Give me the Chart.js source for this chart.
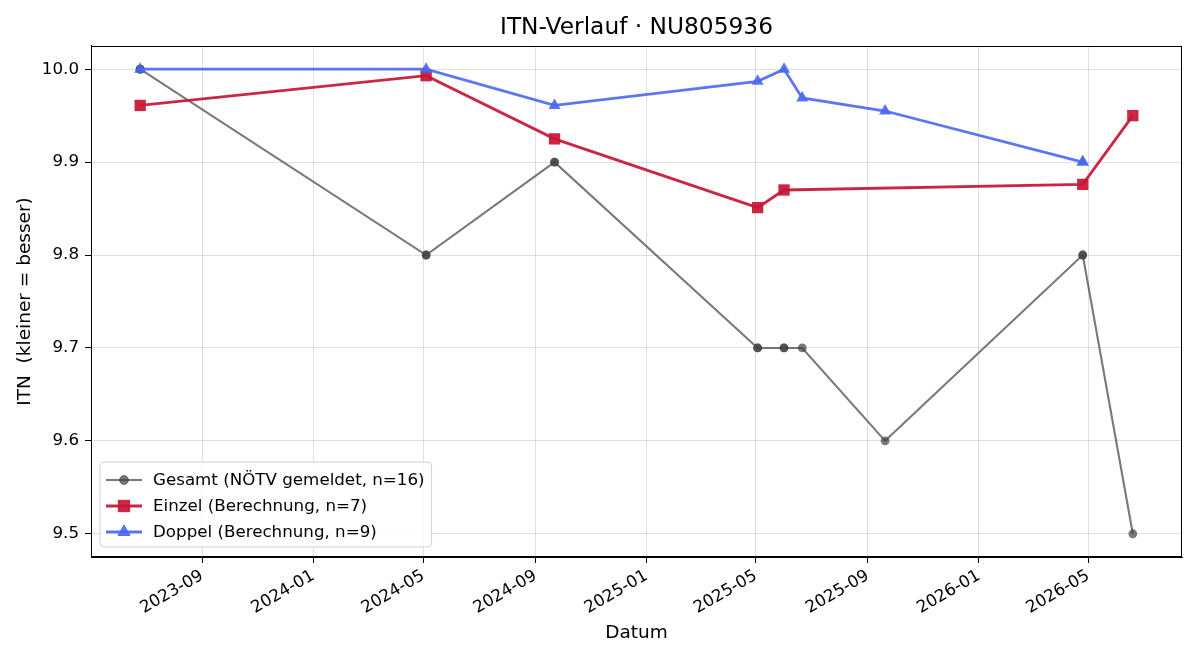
<!DOCTYPE html>
<html><head><meta charset="utf-8">
<script src="https://cdn.jsdelivr.net/npm/chart.js@4.4.1/dist/chart.umd.min.js"></script>
<style>html,body{margin:0;padding:0;background:#fff}canvas{display:block}</style>
</head><body>
<canvas id="c" width="1200" height="660"></canvas>
<script>
const gesamtDates  = ['2023-06-25','2023-06-25','2023-06-25','2024-05-04','2024-05-04','2024-09-22','2024-09-22','2025-05-03','2025-05-03','2025-06-01','2025-06-01','2025-06-21','2025-09-20','2026-04-25','2026-04-25','2026-06-19'];
const gesamtValues = [10.0,10.0,10.0,9.8,9.8,9.9,9.9,9.7,9.7,9.7,9.7,9.7,9.6,9.8,9.8,9.5];
const einzelDates  = ['2023-06-25','2024-05-04','2024-09-22','2025-05-03','2025-06-01','2026-04-25','2026-06-19'];
const einzelValues = [9.961,9.993,9.925,9.851,9.870,9.876,9.950];
const doppelDates  = ['2023-06-25','2024-05-04','2024-09-22','2025-05-03','2025-06-01','2025-06-21','2025-09-20','2026-04-25','2026-04-25'];
const doppelValues = [10.0,10.0,9.961,9.987,10.0,9.969,9.955,9.900,9.900];
const xTickLabels  = ['2023-09','2024-01','2024-05','2024-09','2025-01','2025-05','2025-09','2026-01','2026-05'];
const yTickValues  = [9.5,9.6,9.7,9.8,9.9,10.0];
const seriesLabels = ['Gesamt (NÖTV gemeldet, n=16)','Einzel (Berechnung, n=7)','Doppel (Berechnung, n=9)'];
const titleText = 'ITN-Verlauf · NU805936';
const xTitle = 'Datum';
const yTitle = 'ITN  (kleiner = besser)';

function toMs(s){ const p = s.split('-').map(Number); return Date.UTC(p[0], p[1]-1, p[2] || 1); }
function pts(d, v){ return d.map((s, i) => ({x: toMs(s), y: v[i]})); }

const FONT = 'DejaVu Sans';
Chart.defaults.font.family = FONT;
Chart.defaults.font.size = 16.7;
Chart.defaults.color = '#000';

const GRAY = 'rgba(64,64,64,0.7)';
const RED = 'rgba(200,22,55,0.93)';
const BLUE = 'rgba(72,104,240,0.9)';

const frame = {
  id: 'frame',
  afterLayout(chart){
    const t = chart.titleBlock, a = chart.chartArea;
    if (t && a) { t.left = a.left; t.right = a.right; t.width = a.right - a.left; }
  },
  afterDatasetsDraw(chart){
    const {ctx, chartArea: a} = chart;
    ctx.save();
    ctx.strokeStyle = '#000'; ctx.lineWidth = 1;
    ctx.strokeRect(Math.round(a.left)+0.5, Math.round(a.top)+0.5, Math.round(a.right-a.left)-1, Math.round(a.bottom-a.top)-1);
    ctx.restore();
  },
  afterDraw(chart){
    const {ctx, chartArea: a} = chart;
    const ds = chart.data.datasets;
    ctx.save();
    ctx.font = '16.7px "' + FONT + '"';
    let maxW = 0;
    ds.forEach(d => { maxW = Math.max(maxW, ctx.measureText(d.label).width); });
    const bx = a.left + 9, bw = 53 + maxW + 7, bh = 85, by = a.bottom - 10 - bh;
    const r = 4;
    ctx.beginPath();
    ctx.moveTo(bx + r, by); ctx.lineTo(bx + bw - r, by); ctx.quadraticCurveTo(bx + bw, by, bx + bw, by + r);
    ctx.lineTo(bx + bw, by + bh - r); ctx.quadraticCurveTo(bx + bw, by + bh, bx + bw - r, by + bh);
    ctx.lineTo(bx + r, by + bh); ctx.quadraticCurveTo(bx, by + bh, bx, by + bh - r);
    ctx.lineTo(bx, by + r); ctx.quadraticCurveTo(bx, by, bx + r, by);
    ctx.closePath();
    ctx.fillStyle = 'rgba(255,255,255,0.8)'; ctx.fill();
    ctx.strokeStyle = '#d0d0d0'; ctx.lineWidth = 1; ctx.stroke();
    ds.forEach((d, i) => {
      const y = by + 18 + i * 26;
      ctx.strokeStyle = d.borderColor; ctx.lineWidth = d.borderWidth;
      ctx.beginPath(); ctx.moveTo(bx + 6, y); ctx.lineTo(bx + 42, y); ctx.stroke();
      ctx.fillStyle = d.pointBackgroundColor; ctx.strokeStyle = d.pointBorderColor; ctx.lineWidth = 1;
      Chart.helpers.drawPoint(ctx, {pointStyle: d.pointStyle, rotation: 0, radius: d.pointRadius, borderWidth: 1}, bx + 24, y);
      ctx.fillStyle = '#000'; ctx.textBaseline = 'middle'; ctx.textAlign = 'left';
      ctx.fillText(d.label, bx + 53, y + 1);
    });
    ctx.restore();
  }
};

new Chart(document.getElementById('c'), {
  type: 'line',
  data: {
    datasets: [
      {label: seriesLabels[0], data: pts(gesamtDates, gesamtValues), order: 3,
       borderColor: GRAY, backgroundColor: GRAY, borderWidth: 2.1,
       pointStyle: 'circle', pointRadius: 4.4, pointBackgroundColor: GRAY, pointBorderColor: GRAY, pointBorderWidth: 0},
      {label: seriesLabels[1], data: pts(einzelDates, einzelValues), order: 2,
       borderColor: RED, backgroundColor: RED, borderWidth: 2.8,
       pointStyle: 'rect', pointRadius: 8, pointBackgroundColor: RED, pointBorderColor: RED, pointBorderWidth: 0},
      {label: seriesLabels[2], data: pts(doppelDates, doppelValues), order: 1,
       borderColor: BLUE, backgroundColor: BLUE, borderWidth: 2.8,
       pointStyle: 'triangle', pointRadius: 7, pointBackgroundColor: BLUE, pointBorderColor: BLUE, pointBorderWidth: 0}
    ]
  },
  options: {
    responsive: false, animation: false, devicePixelRatio: 1,
    layout: {padding: {left: 0, right: 18, top: 0, bottom: 0}},
    plugins: {
      legend: {display: false},
      tooltip: {enabled: false},
      title: {display: true, text: titleText, color: '#000',
              font: {size: 23.3, weight: 'normal', family: FONT, lineHeight: 1.2},
              padding: {top: 14, bottom: 4}}
    },
    scales: {
      x: {
        type: 'linear',
        min: Date.UTC(2023, 4, 2), max: Date.UTC(2026, 7, 12),
        afterBuildTicks(s){ s.ticks = xTickLabels.map(l => ({value: toMs(l)})); },
        afterFit(s){ s.height = 103; },
        ticks: {autoSkip: false, maxRotation: 30, minRotation: 30, padding: 3,
                callback(v){ const d = new Date(v); return d.getUTCFullYear() + '-' + String(d.getUTCMonth()+1).padStart(2,'0'); }},
        grid: {color: 'rgba(0,0,0,0.12)', lineWidth: 1, tickLength: 6, tickColor: '#000', drawTicks: true},
        border: {display: true, color: '#000', width: 1},
        title: {display: true, text: xTitle, color: '#000', font: {size: 18.5, family: FONT}, padding: {top: 4, bottom: 16}}
      },
      y: {
        type: 'linear',
        min: 9.475, max: 10.025,
        afterBuildTicks(s){ s.ticks = yTickValues.map(v => ({value: v})); },
        afterFit(s){ s.width = 91; },
        ticks: {padding: 6, callback(v){ return Number(v).toFixed(1); }},
        grid: {color: 'rgba(0,0,0,0.12)', lineWidth: 1, tickLength: 6, tickColor: '#000', drawTicks: true},
        border: {display: true, color: '#000', width: 1},
        title: {display: true, text: yTitle, color: '#000', font: {size: 18.5, family: FONT}, padding: {top: 14, bottom: 4}}
      }
    }
  },
  plugins: [frame]
});
</script>
</body></html>
